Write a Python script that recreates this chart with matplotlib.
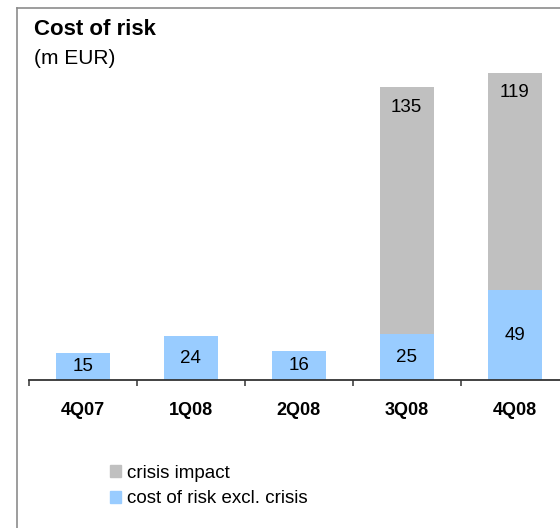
import matplotlib.pyplot as plt
from matplotlib.lines import Line2D
from matplotlib.patches import Patch

plt.rcParams['font.family'] = ['Liberation Sans', 'DejaVu Sans']

QUARTERS = ["4Q07", "1Q08", "2Q08", "3Q08", "4Q08"]
COST_EXCL_CRISIS = [15, 24, 16, 25, 49]
CRISIS_IMPACT = [0, 0, 0, 135, 119]

BLUE = "#99CCFF"
GRAY = "#C0C0C0"


def main():
    W, H = 560, 528
    fig = plt.figure(figsize=(W / 100, H / 100), dpi=100)

    # frame lines (left and top only, the rest is cropped in the original)
    fig.add_artist(Line2D([17 / W, 17 / W], [0, 1 - 8 / H], color="#8c8c8c", lw=1.2))
    fig.add_artist(Line2D([17 / W, 1], [1 - 8 / H, 1 - 8 / H], color="#8c8c8c", lw=1.2))

    fig.text(34 / W, 1 - 35 / H, "Cost of risk", fontsize=16, fontweight="bold", va="baseline")
    fig.text(34 / W, 1 - 64 / H, "(m EUR)", fontsize=15, va="baseline")

    # axes runs a bit past the right edge, like the source
    ax = fig.add_axes([28.6 / W, 148 / H, 540 / W, 329.4 / H])
    x = range(len(QUARTERS))
    blue = ax.bar(x, COST_EXCL_CRISIS, width=0.5, color=BLUE)
    gray = ax.bar(x, CRISIS_IMPACT, width=0.5, bottom=COST_EXCL_CRISIS, color=GRAY)

    ax.bar_label(blue, label_type="center", fontsize=13.5)
    for i, v in enumerate(CRISIS_IMPACT):
        if v:
            ax.annotate(str(v), (i, COST_EXCL_CRISIS[i] + v), xytext=(0, -14.4),
                        textcoords="offset points", ha="center", va="center", fontsize=13.5)

    ax.set_xlim(-0.5, 4.5)
    ax.set_ylim(0, 180)
    for s in ["top", "right", "left"]:
        ax.spines[s].set_visible(False)
    ax.spines["bottom"].set_color("#333333")
    ax.spines["bottom"].set_linewidth(1.3)
    ax.set_yticks([])

    ax.set_xticks([i - 0.5 for i in range(len(QUARTERS) + 1)])
    ax.set_xticklabels([])
    ax.tick_params(axis="x", which="major", length=4, width=1.1, color="#333333")
    ax.set_xticks(list(x), minor=True)
    ax.set_xticklabels(QUARTERS, minor=True, fontsize=13, fontweight="bold")
    ax.tick_params(axis="x", which="minor", length=0, pad=15.5)

    handles = [Patch(color=GRAY, label="crisis impact"),
               Patch(color=BLUE, label="cost of risk excl. crisis")]
    fig.legend(handles=handles, loc="upper left", bbox_to_anchor=(110 / W, 1 - 465 / H),
               frameon=False, fontsize=13.5, handlelength=0.6, handleheight=0.6,
               handletextpad=0.3, labelspacing=0.45, borderpad=0, borderaxespad=0)

    fig.savefig("out.png", dpi=100)


if __name__ == "__main__":
    main()
